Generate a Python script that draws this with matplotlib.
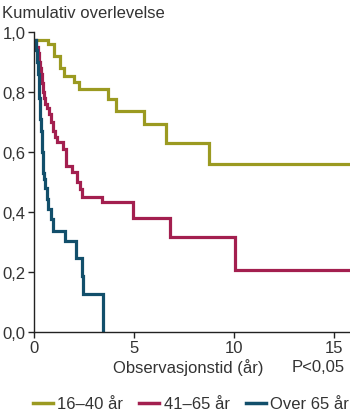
import matplotlib
matplotlib.use("Agg")
import matplotlib.pyplot as plt
from matplotlib.lines import Line2D

plt.rcParams['font.family'] = ['Liberation Sans', 'DejaVu Sans']

# Data
t_young = [0.0, 0.7, 1.0, 1.3, 1.5, 2.0, 2.25, 3.7, 4.1, 5.5, 6.6, 8.75, 15.8]
s_young = [0.973, 0.96, 0.92, 0.88, 0.855, 0.833, 0.81, 0.777, 0.738, 0.693, 0.63, 0.56, 0.56]

t_mid = [0.0, 0.1, 0.18, 0.24, 0.3, 0.35, 0.4, 0.45, 0.5, 0.55, 0.63, 0.75, 0.87, 0.97,
         1.05, 1.13, 1.47, 1.6, 1.88, 2.13, 2.3, 2.38, 3.38, 4.97, 6.8, 10.05, 15.8]
s_mid = [0.973, 0.95, 0.93, 0.90, 0.88, 0.86, 0.83, 0.80, 0.78, 0.76, 0.748, 0.726, 0.70, 0.67,
         0.65, 0.632, 0.61, 0.554, 0.532, 0.499, 0.477, 0.449, 0.432, 0.379, 0.316, 0.208, 0.208]

t_old = [0.0, 0.12, 0.16, 0.2, 0.23, 0.26, 0.29, 0.32, 0.35, 0.38, 0.41, 0.44, 0.47, 0.5,
         0.55, 0.63, 0.72, 0.83, 0.97, 1.55, 2.1, 2.42, 2.47, 3.43]
s_old = [0.973, 0.94, 0.90, 0.86, 0.82, 0.78, 0.75, 0.71, 0.67, 0.63, 0.60, 0.56, 0.53, 0.51,
         0.48, 0.443, 0.41, 0.377, 0.338, 0.304, 0.247, 0.188, 0.127, 0.0]

labels = ['16–40 år', '41–65 år', 'Over 65 år']
colors = ['#9b9a21', '#a31f4f', '#124f6b']

xticks = [0, 5, 10, 15]
yticks = [0.0, 0.2, 0.4, 0.6, 0.8, 1.0]
ytick_labels = ['0,0', '0,2', '0,4', '0,6', '0,8', '1,0']

txt = '#333333'

fig = plt.figure(figsize=(3.5, 4.14), dpi=100)
ax = fig.add_axes([34/350, 1-333/414, 1-34/350, 300/414])

for t, s, c, lab in zip([t_young, t_mid, t_old], [s_young, s_mid, s_old], colors, labels):
    ax.step(t, s, where='post', color=c, lw=2.3, label=lab,
            solid_joinstyle='miter', solid_capstyle='butt', clip_on=True)

ax.set_xlim(0, 15.8)
ax.set_ylim(0, 1.0)
ax.set_xticks(xticks)
ax.set_xticklabels([str(v) for v in xticks])
ax.set_yticks(yticks)
ax.set_yticklabels(ytick_labels)
for sp in ['top', 'right']:
    ax.spines[sp].set_visible(False)
for sp in ['left', 'bottom']:
    ax.spines[sp].set_color('#222222')
    ax.spines[sp].set_linewidth(1.0)
ax.tick_params(axis='both', direction='out', length=4, width=1.0, colors='#222222',
               labelsize=12, labelcolor=txt, pad=2)

fig.text(2/350, 1-14/414, 'Kumulativ overlevelse', fontsize=12, color=txt,
         ha='left', va='center')
fig.text(188/350, 1-368/414, 'Observasjonstid (år)', fontsize=12, color=txt,
         ha='center', va='center')
fig.text(345/350, 1-368/414, 'P<0,05', fontsize=12, color=txt,
         ha='right', va='center')

handles = [Line2D([0], [0], color=c, lw=2.5) for c in colors]
fig.legend(handles, labels, loc='center', bbox_to_anchor=(191/350, 1-405/414), ncol=3,
           frameon=False, fontsize=12, handlelength=1.2, handletextpad=0.25,
           columnspacing=1.0, labelcolor=txt, borderaxespad=0)

fig.savefig('out.png', dpi=100)
